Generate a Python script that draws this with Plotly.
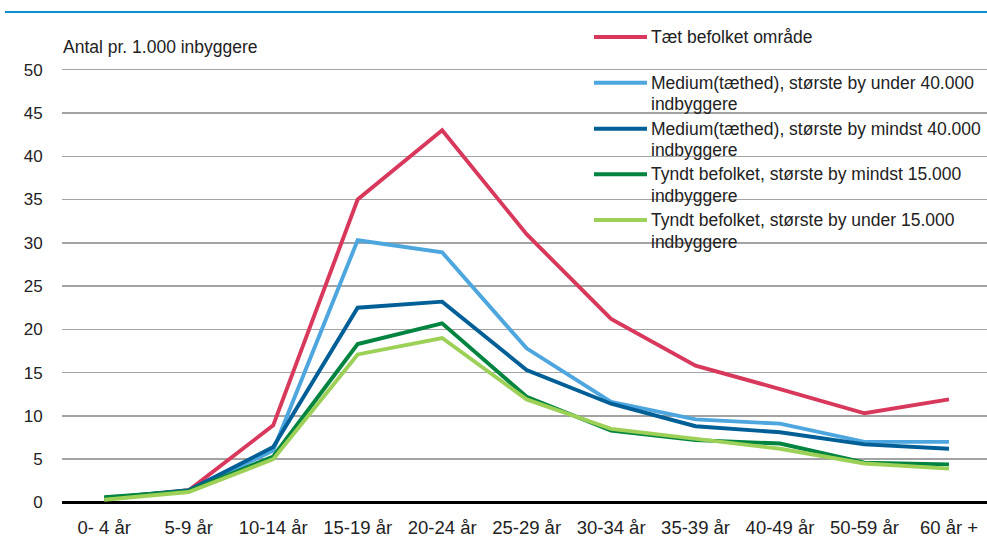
import plotly.graph_objects as go

categories = ["0- 4 år", "5-9 år", "10-14 år", "15-19 år", "20-24 år", "25-29 år",
              "30-34 år", "35-39 år", "40-49 år", "50-59 år", "60 år +"]

series_names = [
    "Tæt befolket område",
    "Medium(tæthed), største by under 40.000<br>indbyggere",
    "Medium(tæthed), største by mindst 40.000<br>indbyggere",
    "Tyndt befolket, største by mindst 15.000<br>indbyggere",
    "Tyndt befolket, største by under 15.000<br>indbyggere",
]

taet = [0.4, 1.4, 8.9, 35.0, 43.0, 31.0, 21.2, 15.8, 13.1, 10.3, 11.9]
medium_under40 = [0.4, 1.3, 6.0, 30.3, 28.9, 17.8, 11.6, 9.6, 9.1, 7.0, 7.0]
medium_mindst40 = [0.5, 1.4, 6.4, 22.5, 23.2, 15.3, 11.4, 8.8, 8.1, 6.7, 6.2]
tyndt_mindst15 = [0.6, 1.3, 5.3, 18.3, 20.7, 12.2, 8.3, 7.2, 6.8, 4.6, 4.4]
tyndt_under15 = [0.3, 1.2, 5.0, 17.1, 19.0, 11.9, 8.5, 7.4, 6.2, 4.5, 3.9]

series_values = [taet, medium_under40, medium_mindst40, tyndt_mindst15, tyndt_under15]
colors = ["#d7385b", "#4ea6de", "#005f96", "#00843f", "#9cd056"]

y_ticks = [0, 5, 10, 15, 20, 25, 30, 35, 40, 45, 50]
y_title = "Antal pr. 1.000 inbyggere"

FONT = "Liberation Sans, Arial, sans-serif"
FS = 17.5
TXT = "#222222"

W, H = 987, 542
ML, MR, MT, MB = 62, 0, 68, 37
PW, PH = W - ML - MR, H - MT - MB


def px_x(x):
    return (x - ML) / PW


def px_y(y):
    return (H - MB - y) / PH


fig = go.Figure()
for name, vals, col in zip(series_names, series_values, colors):
    fig.add_trace(go.Scatter(x=categories, y=vals, mode="lines", name=name,
                             line=dict(color=col, width=3.9), showlegend=False))

shapes = []
annotations = []

# top blue rule
shapes.append(dict(type="line", xref="paper", yref="paper",
                   x0=px_x(5), x1=px_x(987), y0=px_y(12), y1=px_y(12),
                   line=dict(color="#0a8fd0", width=2)))

# y-axis title
annotations.append(dict(text=y_title, xref="paper", yref="paper",
                        x=px_x(61), y=px_y(47), xanchor="left", yanchor="middle",
                        showarrow=False, font=dict(family=FONT, size=FS, color=TXT)))

# legend (manual)
leg_y = [37, 82.7, 128.7, 174.3, 220]
for name, col, ly in zip(series_names, colors, leg_y):
    shapes.append(dict(type="line", xref="paper", yref="paper",
                       x0=px_x(594), x1=px_x(647), y0=px_y(ly), y1=px_y(ly),
                       line=dict(color=col, width=3.9)))
    for i, part in enumerate(name.split("<br>")):
        annotations.append(dict(text=part, xref="paper", yref="paper",
                                x=px_x(649), y=px_y(ly + i * 21.7),
                                xanchor="left", yanchor="middle", showarrow=False,
                                font=dict(family=FONT, size=FS, color=TXT)))

fig.update_layout(
    width=W, height=H,
    margin=dict(l=ML, r=MR, t=MT, b=MB, autoexpand=False),
    paper_bgcolor="white", plot_bgcolor="white",
    showlegend=False, hovermode=False,
    shapes=shapes, annotations=annotations,
    font=dict(family=FONT, size=FS, color=TXT),
    xaxis=dict(type="category", categoryorder="array", categoryarray=categories,
               range=[-0.5, 10.45], showgrid=False, showline=False, zeroline=False,
               ticks="outside", ticklen=6, tickcolor="rgba(0,0,0,0)",
               tickfont=dict(family=FONT, size=18.5, color=TXT)),
    yaxis=dict(range=[-0.3, 50.2], tickvals=y_ticks, ticktext=[str(v) for v in y_ticks],
               showgrid=True, gridcolor="#a3a3a3", gridwidth=1.5,
               zeroline=True, zerolinecolor="#000000", zerolinewidth=3,
               showline=False, ticks="outside", ticklen=15, tickcolor="rgba(0,0,0,0)",
               tickfont=dict(family=FONT, size=17, color=TXT)),
)

fig.write_html("out.html", config={"displayModeBar": False, "staticPlot": True},
               post_script="document.body.style.margin='0';document.body.style.padding='0';")
